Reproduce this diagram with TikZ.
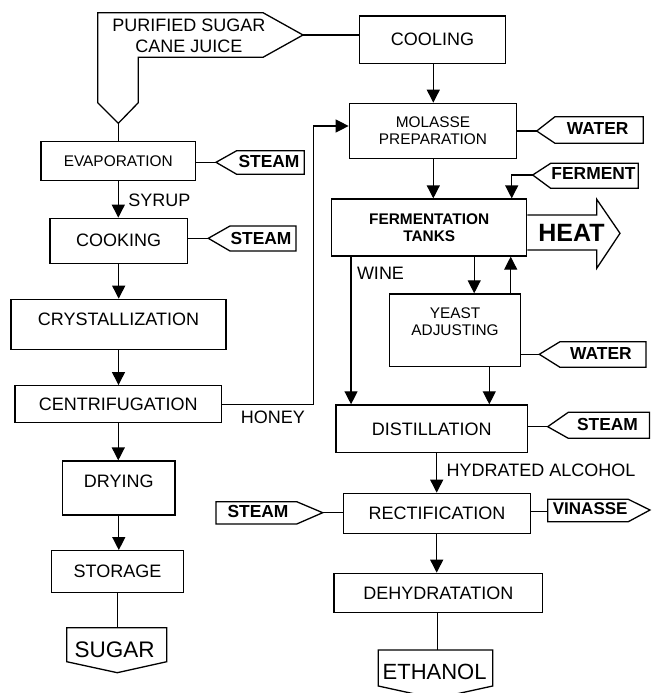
\documentclass[tikz,border=0pt]{standalone}
\usepackage{fontspec}
\setmainfont{Liberation Sans}
\usetikzlibrary{arrows.meta,calc}
\newcommand\myN{\fontsize{18}{21.5}\selectfont}
\newcommand\myS{\fontsize{15.4}{17.5}\selectfont}
\newcommand\myB{\fontsize{17.4}{20}\selectfont\bfseries}
\begin{document}
\begin{tikzpicture}[x=1pt,y=-1pt,line width=1.3pt,line join=miter,
  box/.style={draw,rectangle,inner sep=0pt,align=center,font=\myN},
  sbox/.style={box,font=\myS},
  lbl/.style={inner sep=0pt,align=center,font=\myN},
  tagtxt/.style={inner sep=0pt,font=\myB},
  arr/.style={-{Triangle[length=13pt,width=13pt]}}]
\useasboundingbox (0,0) rectangle (651,693);

% ---------- input shape ----------
\coordinate (jp) at (303,35);
\coordinate (jb) at (118.3,123.3);
\draw (97.7,12.7) -- (263,12.7) -- (jp) -- (263,57.3) -- (138.3,57.3) -- (138.3,102.7) -- (jb) -- (97.7,102.7) -- cycle;
\node[lbl] (juice) at (188.8,35.8) {PURIFIED SUGAR\\CANE JUICE};

% ---------- left column ----------
\node[sbox,minimum width=154.7,minimum height=39] (evap) at (118.3,161.2) {EVAPORATION};
\node[box,minimum width=137.3,minimum height=45] (cook) at (118.7,240.8) {COOKING};
\node[box,minimum width=215,minimum height=50] (cryst) at (118.5,324.3) {};
\node[lbl] (crysttxt) at (118.5,319.5) {CRYSTALLIZATION};
\node[box,minimum width=206.7,minimum height=37] (centri) at (118.3,404.2) {CENTRIFUGATION};
\node[box,minimum width=112.3,minimum height=54] (dry) at (118.8,488) {};
\node[lbl] (drytxt) at (118.8,481.7) {DRYING};
\node[box,minimum width=131.6,minimum height=41.6] (stor) at (117.5,571.5) {STORAGE};
\coordinate (sugtop) at (117.3,627.7);
\draw (66.7,627.7) -- (166.7,627.7) -- (166.7,661.7) -- (117.3,672.7) -- (66.7,661.7) -- cycle;
\node[inner sep=0pt,font=\fontsize{22.5}{26}\selectfont] (sugar) at (114.7,649.3) {SUGAR};

\draw (jb) -- (jb |- evap.north);
\draw[arr] (evap.south) -- (evap.south |- cook.north);
\node[lbl,anchor=west] (syrup) at (127.7,200) {SYRUP};
\draw[arr] (cook.south) -- (cook.south |- cryst.north);
\draw[arr] (cryst.south) -- (cryst.south |- centri.north);
\draw[arr] (centri.south) -- (centri.south |- dry.north);
\draw[arr] (dry.south) -- (dry.south |- stor.north);
\draw (stor.south) -- (stor.south |- sugtop);

% steam tags left
\coordinate (s1) at (216,162.3);
\draw (s1) -- (236.7,150.7) -- (304.3,150.7) -- (304.3,174.3) -- (236.7,174.3) -- cycle;
\node[tagtxt] (s1t) at (269,162) {STEAM};
\draw (evap.east |- s1) -- (s1);
\coordinate (s2) at (208.3,238.3);
\draw (s2) -- (230,226) -- (296,226) -- (296,251) -- (230,251) -- cycle;
\node[tagtxt] (s2t) at (261,238.5) {STEAM};
\draw (cook.east |- s2) -- (s2);

% honey
\coordinate (hk) at (313.3,126);
\node[lbl] (honey) at (272.8,417.3) {HONEY};

% ---------- right column ----------
\node[box,minimum width=146.4,minimum height=47.3] (cool) at (432.5,39.7) {COOLING};
\draw (jp) -- (jp -| cool.west);
\node[sbox,minimum width=167.4,minimum height=55] (mol) at (433,130.8) {MOLASSE\\PREPARATION};
\draw[arr] (centri.east) -| (hk) -- (hk -| mol.west);
\node[box,minimum width=195,minimum height=57,font=\myS\bfseries] (ferm) at (429.2,227.5) {FERMENTATION\\TANKS};
\node[box,minimum width=131.4,minimum height=72.7] (yeast) at (455,330.3) {};
\node[lbl,font=\myS] (yeasttxt) at (455,321.5) {YEAST\\ADJUSTING};
\node[box,minimum width=191.3,minimum height=47.7] (dist) at (431.7,428.8) {DISTILLATION};
\node[box,minimum width=187.4,minimum height=40] (rect) at (437,513.3) {RECTIFICATION};
\node[box,minimum width=208.7,minimum height=39.4] (dehy) at (438.3,593) {DEHYDRATATION};
\coordinate (ethtop) at (437.3,650);
\draw (378.3,686) -- (378.3,650) -- (492.7,650) -- (492.7,686) -- (435.5,698.5) -- cycle;
\node[inner sep=0pt,font=\fontsize{22}{26}\selectfont] (eth) at (434.6,671.7) {ETHANOL};

\draw[arr] ([xshift=0.8pt]cool.south) -- ([xshift=0.8pt]cool.south |- mol.north);
\draw[arr] ([xshift=0.3pt]mol.south) -- ([xshift=0.3pt]mol.south |- ferm.north);
\draw[arr] ([xshift=20pt]ferm.south west) -- ([xshift=20pt]ferm.south west |- dist.north);
\node[lbl] (wine) at (380.5,273) {WINE};
\draw[arr] ([xshift=45pt]ferm.south) -- ([xshift=45pt]ferm.south |- yeast.north);
\draw[arr] ([xshift=55.7pt]yeast.north) -- ([xshift=55.7pt]yeast.north |- ferm.south);
\draw[arr] ([xshift=34.3pt]yeast.south) -- ([xshift=34.3pt]yeast.south |- dist.north);
\draw[arr] ([xshift=5pt]dist.south) -- ([xshift=5pt]dist.south |- rect.north);
\node[lbl,anchor=west] (hyd) at (446,470.7) {HYDRATED ALCOHOL};
\draw[arr] ([xshift=-0.3pt]rect.south) -- ([xshift=-0.3pt]rect.south |- dehy.north);
\draw ([xshift=-1pt]dehy.south) -- ([xshift=-1pt]dehy.south |- ethtop);

% heat arrow
\draw (ferm.east |- 0,215) -- (596.7,215) -- (596.7,199.3) -- (620,233.3) -- (596.7,268.3) -- (596.7,250) -- (ferm.east |- 0,250);
\node[inner sep=0pt,font=\fontsize{25}{28}\selectfont\bfseries] (heat) at (571.5,232.5) {HEAT};

% water tag 1
\coordinate (w1) at (536.7,131);
\draw (w1) -- (555,116.7) -- (643.3,116.7) -- (643.3,143.3) -- (555,143.3) -- cycle;
\node[tagtxt] (w1t) at (597.7,128.5) {WATER};
\draw (mol.east |- w1) -- (w1);

% ferment tag
\coordinate (fp) at (532.7,175);
\coordinate (fin) at (511.7,199);
\draw (fp) -- (550.7,163.3) -- (638.3,163.3) -- (638.3,188.3) -- (550.7,188.3) -- cycle;
\node[tagtxt] (fpt) at (593.5,174) {FERMENT};
\draw[arr] (fp) -| (fin |- ferm.north);

% water tag 2
\coordinate (w2) at (539.3,354.3);
\draw (w2) -- (560,341.7) -- (646,341.7) -- (646,367.3) -- (560,367.3) -- cycle;
\node[tagtxt] (w2t) at (601,354) {WATER};
\draw (yeast.east |- w2) -- (w2);

% steam tag 3
\coordinate (s3) at (547.7,426.7);
\draw (s3) -- (568.3,412.3) -- (649.5,412.3) -- (649.5,438.3) -- (568.3,438.3) -- cycle;
\node[tagtxt] (s3t) at (607.5,424.5) {STEAM};
\draw (dist.east |- s3) -- (s3);

% steam tag 4 (right pointing)
\coordinate (s4) at (322.7,512.7);
\draw (216,501.7) -- (296.7,501.7) -- (s4) -- (296.7,524) -- (216,524) -- cycle;
\node[tagtxt] (s4t) at (258,511.5) {STEAM};
\draw (s4) -- (s4 -| rect.west);

% vinasse tag
\coordinate (vl) at (547.7,511.7);
\draw (547.7,499.3) -- (628.3,499.3) -- (650,510) -- (628.3,521.7) -- (547.7,521.7) -- cycle;
\node[tagtxt,font=\fontsize{17}{20}\selectfont\bfseries] (vt) at (590.2,509) {VINASSE};
\draw (rect.east |- vl) -- (vl);
\end{tikzpicture}
\end{document}
